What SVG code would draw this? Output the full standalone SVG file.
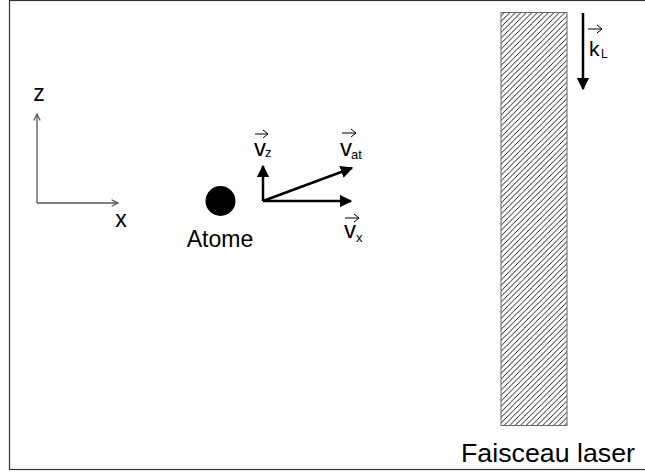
<svg xmlns="http://www.w3.org/2000/svg" width="645" height="476" viewBox="0 0 645 476">
<defs>
<style>
.t{font-family:"Liberation Sans",Arial,sans-serif;fill:#000}
.ax{stroke:#555;stroke-width:1.3;fill:none}
.vec{stroke:#000;stroke-width:2.5;fill:none}
.ov{stroke:#000;stroke-width:1;fill:none}
</style>
<pattern id="hatch" patternUnits="userSpaceOnUse" width="5.5" height="5.5">
<path d="M0,5.5 L5.5,0 M-1,1 L1,-1 M4.5,6.5 L6.5,4.5" stroke="#000" stroke-width="0.9"/>
</pattern>
<marker id="open" viewBox="0 0 10 10" refX="9" refY="5" markerWidth="8" markerHeight="8" markerUnits="userSpaceOnUse" orient="auto">
<path d="M1,1 L9,5 L1,9" fill="none" stroke="#555" stroke-width="1.5"/>
</marker>
<marker id="solid" viewBox="0 0 10 10" refX="9" refY="5" markerWidth="5" markerHeight="5" orient="auto">
<path d="M0,0 L10,5 L0,10 Z" fill="#000"/>
</marker>
</defs>
<rect x="0" y="0" width="645" height="476" fill="#fff"/>
<rect x="9.5" y="0.5" width="645" height="469" fill="none" stroke="#333" stroke-width="1.2"/>

<g id="laser">
<rect x="501" y="12.5" width="66" height="413" fill="url(#hatch)" stroke="#666" stroke-width="1"/>
<text class="t" x="548" y="462" font-size="25" text-anchor="middle" textLength="174" lengthAdjust="spacingAndGlyphs">Faisceau laser</text>
</g>

<g id="axes">
<text class="t" x="39" y="101" font-size="23" text-anchor="middle">z</text>
<text class="t" x="121" y="227" font-size="23" text-anchor="middle">x</text>
</g>

<g id="atom">
<circle cx="220.5" cy="201" r="15" fill="#000"/>
<text class="t" x="220" y="247" font-size="23" text-anchor="middle">Atome</text>
</g>

<g id="labels">
<g id="kL">
<path class="ov" d="M588,29 L602,29 M597,25 L602,29 L597,33"/>
<text class="t" x="589" y="56" font-size="21">k</text>
<text class="t" x="601" y="58" font-size="12">L</text>
</g>
<g id="vz">
<path class="ov" d="M255,134 L268,134 M263,130 L268,134 L263,138"/>
<text class="t" x="254" y="156" font-size="24">v</text>
<text class="t" x="265" y="157" font-size="13">z</text>
</g>
<g id="vat">
<path class="ov" d="M342,133 L356,133 M351,129 L356,133 L351,137"/>
<text class="t" x="340" y="156" font-size="24">v</text>
<text class="t" x="351" y="159" font-size="13">at</text>
</g>
<g id="vx">
<path class="ov" d="M345,218 L359,218 M354,214 L359,218 L354,222"/>
<text class="t" x="344" y="238" font-size="24">v</text>
<text class="t" x="356" y="242" font-size="13">x</text>
</g>
</g>

<g id="connectors">
<path class="ax" d="M37,203 L37,114" marker-end="url(#open)"/>
<path class="ax" d="M37,203 L118,203" marker-end="url(#open)"/>
<path class="vec" d="M263,201 L263,166" marker-end="url(#solid)"/>
<path class="vec" d="M263,201 L351,201" marker-end="url(#solid)"/>
<path class="vec" d="M263,201 L352,168" marker-end="url(#solid)"/>
<path class="vec" d="M583,13 L583,89" marker-end="url(#solid)"/>
</g>
</svg>
